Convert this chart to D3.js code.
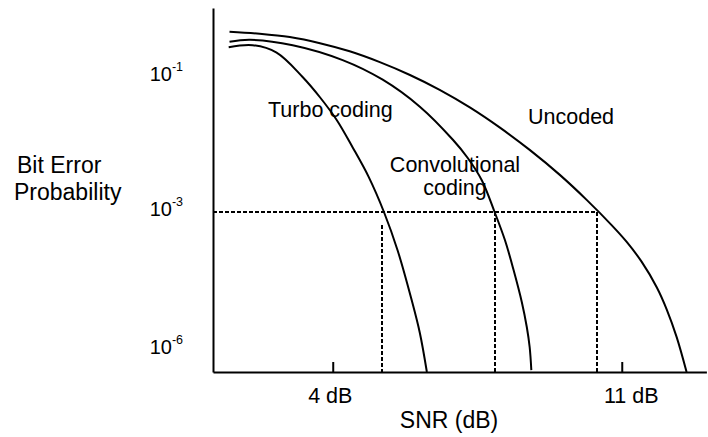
<!DOCTYPE html>
<html>
<head>
<meta charset="utf-8">
<script src="https://cdn.jsdelivr.net/npm/d3@7"></script>
<style>
  body { margin: 0; background: #fff; }
  text { font-family: "Liberation Sans", Arial, sans-serif; fill: #000; }
</style>
</head>
<body>
<div id="chart"></div>
<script>
// BER vs SNR sketch: uncoded / convolutional / turbo

// SNR in dB, BER as log10
var turboSnr = [1.48, 2.06, 2.64, 3.27, 3.69, 4.10, 4.48, 4.87, 5.24, 5.57, 5.91, 6.11, 6.28];
var turboBer = [-0.56, -0.53, -0.64, -1.0, -1.30, -1.64, -2.04, -2.48, -3.0, -3.83, -4.91, -5.63, -6.48];

var convSnr = [1.5, 1.99, 3.03, 4.24, 5.21, 6.11, 6.91, 7.27, 7.61, 7.92, 8.17, 8.38, 8.58, 8.70, 8.77, 8.81];
var convBer = [-0.48, -0.45, -0.53, -0.75, -1.04, -1.44, -1.93, -2.2, -2.53, -3.0, -3.61, -4.26, -4.96, -5.5, -5.94, -6.44];

var uncodedSnr = [1.5, 2.23, 2.96, 3.69, 4.41, 5.14, 5.87, 6.59, 7.32, 8.05, 8.77, 9.50, 10.15, 10.76, 11.12, 11.48, 11.85, 12.09, 12.33, 12.57];
var uncodedBer = [-0.33, -0.36, -0.41, -0.50, -0.62, -0.78, -0.97, -1.19, -1.45, -1.75, -2.08, -2.45, -2.82, -3.29, -3.65, -4.08, -4.64, -5.12, -5.72, -6.48];

// where each curve hits 10^-3 (dashed guides)
var crossSnr = [5.19, 7.92, 10.39];
var crossTop = [-3.28, -3, -3];
var targetBer = -3;

var xTicks = [4, 11];
var xTickLabels = ["4 dB", "11 dB"];
var yTicks = [-1, -3, -6];
var yTickExp = ["-1", "-3", "-6"];

var svgWidth = 708, svgHeight = 437;

var svg = d3.select("#chart").append("svg")
    .attr("width", svgWidth)
    .attr("height", svgHeight);

// x is linear in dB
var x = d3.scaleLinear().domain([1.1, 13.05]).range([213, 706.4]);
// y axis in the sketch is not evenly spaced per decade, so piecewise
var y = d3.scaleLinear()
    .domain([-6.48, -6, -3, -1, 0.02])
    .range([372, 350, 212, 77, 8]);

// dashed guides
svg.append("line")
    .attr("x1", x(1.1)).attr("x2", x(crossSnr[2]))
    .attr("y1", y(targetBer)).attr("y2", y(targetBer))
    .attr("stroke", "#000").attr("stroke-width", 2)
    .attr("stroke-dasharray", "4,2");

svg.selectAll(".guide")
    .data(crossSnr)
  .enter().append("line")
    .attr("class", "guide")
    .attr("x1", function(d) { return Math.round(x(d)); })
    .attr("x2", function(d) { return Math.round(x(d)); })
    .attr("y1", function(d, i) { return y(crossTop[i]); })
    .attr("y2", y(-6.48))
    .attr("stroke", "#000").attr("stroke-width", 2)
    .attr("stroke-dasharray", "4,2");

// curves
var line = d3.line()
    .x(function(d) { return x(d[0]); })
    .y(function(d) { return y(d[1]); })
    .curve(d3.curveCatmullRom.alpha(0.5));

var curves = [
  d3.zip(uncodedSnr, uncodedBer),
  d3.zip(convSnr, convBer),
  d3.zip(turboSnr, turboBer)
];

svg.selectAll(".curve")
    .data(curves)
  .enter().append("path")
    .attr("class", "curve")
    .attr("d", line)
    .attr("fill", "none")
    .attr("stroke", "#000")
    .attr("stroke-width", 2);

// x axis, ticks point up
var xAxis = svg.append("g")
    .attr("transform", "translate(0," + y(-6.48) + ")")
    .call(d3.axisBottom(x)
      .tickValues(xTicks)
      .tickSizeInner(-10)
      .tickSizeOuter(0)
      .tickPadding(16)
      .tickFormat(function(d, i) { return xTickLabels[i]; }));
xAxis.selectAll("path, line").attr("stroke", "#000").attr("stroke-width", 2);
xAxis.selectAll("text")
    .style("font-size", "21.5px")
    .attr("dx", function(d, i) { return i == 0 ? -3 : 9; });

// y axis, no tick marks, labels as 10^n
var yAxis = svg.append("g")
    .attr("transform", "translate(" + x(1.1) + ",0)")
    .call(d3.axisLeft(y)
      .tickValues(yTicks)
      .tickSize(0)
      .tickPadding(30)
      .tickFormat(""));
yAxis.select(".domain").attr("stroke", "#000").attr("stroke-width", 2);
yAxis.selectAll(".tick text")
    .each(function(d, i) {
      var t = d3.select(this);
      t.append("tspan").style("font-size", "20px").text("10");
      t.append("tspan").style("font-size", "12.5px").attr("dy", "-0.75em").text(yTickExp[i]);
    });

// titles
svg.append("text")
    .attr("x", 449).attr("y", 428)
    .attr("text-anchor", "middle")
    .style("font-size", "23px")
    .text("SNR (dB)");

svg.append("text").attr("x", 17).attr("y", 173).style("font-size", "23px").text("Bit Error");
svg.append("text").attr("x", 14).attr("y", 200).style("font-size", "23px").text("Probability");

// curve labels
svg.append("text").attr("x", 268).attr("y", 117).style("font-size", "21.5px").text("Turbo coding");
svg.append("text").attr("x", 455).attr("y", 172).attr("text-anchor", "middle").style("font-size", "21.5px").text("Convolutional");
svg.append("text").attr("x", 455).attr("y", 195).attr("text-anchor", "middle").style("font-size", "21.5px").text("coding");
svg.append("text").attr("x", 528).attr("y", 124).style("font-size", "21.5px").text("Uncoded");
</script>
</body>
</html>
